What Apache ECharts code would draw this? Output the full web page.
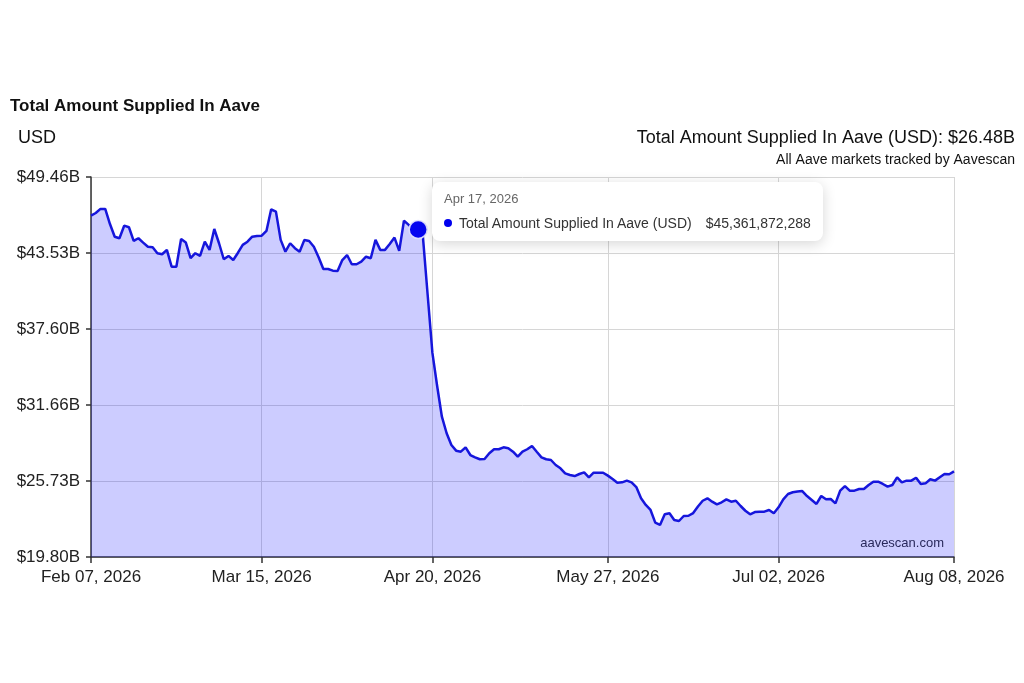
<!DOCTYPE html>
<html>
<head>
<meta charset="utf-8">
<script src="https://cdn.jsdelivr.net/npm/echarts@6/dist/echarts.min.js"></script>
<style>
  html, body { margin: 0; padding: 0; background: #fff; }
  #chart { width: 1024px; height: 683px; }
</style>
</head>
<body>
<div id="chart"></div>
<script>
// daily values, billions of USD, Feb 07 2026 .. Aug 08 2026
var supplied = [
  46.44, 46.65, 46.97, 46.97, 45.79, 44.80, 44.68, 45.66, 45.54, 44.47,
  44.68, 44.34, 44.02, 43.98, 43.51, 43.43, 43.77, 42.46, 42.46, 44.62,
  44.34, 43.12, 43.51, 43.30, 44.41, 43.77, 45.40, 44.29, 43.04, 43.30,
  42.98, 43.55, 44.16, 44.41, 44.80, 44.86, 44.88, 45.25, 46.94, 46.76,
  44.55, 43.63, 44.29, 43.90, 43.63, 44.55, 44.47, 44.02, 43.20, 42.28,
  42.28, 42.15, 42.13, 42.98, 43.37, 42.65, 42.65, 42.85, 43.24, 43.12,
  44.55, 43.77, 43.77, 44.23, 44.73, 43.69, 46.05, 45.72, 45.45, 45.361872288,
  44.78, 40.25, 35.73, 33.15, 30.75, 29.46, 28.54, 28.10, 28.02, 28.36,
  27.76, 27.58, 27.43, 27.45, 27.90, 28.21, 28.21, 28.36, 28.29, 28.02,
  27.63, 28.02, 28.21, 28.47, 28.02, 27.58, 27.43, 27.37, 26.98, 26.72,
  26.33, 26.20, 26.12, 26.28, 26.41, 26.02, 26.38, 26.38, 26.38, 26.15,
  25.89, 25.60, 25.63, 25.76, 25.63, 25.26, 24.38, 23.86, 23.47, 22.48,
  22.30, 23.13, 23.21, 22.69, 22.61, 23.00, 23.02, 23.23, 23.74, 24.19,
  24.38, 24.12, 23.91, 24.07, 24.30, 24.12, 24.19, 23.78, 23.41, 23.13,
  23.31, 23.34, 23.34, 23.47, 23.21, 23.68, 24.30, 24.72, 24.85, 24.91,
  24.95, 24.56, 24.25, 23.94, 24.56, 24.30, 24.33, 23.99, 24.98, 25.34,
  24.98, 24.98, 25.11, 25.11, 25.42, 25.68, 25.68, 25.50, 25.29, 25.42,
  26.02, 25.63, 25.76, 25.76, 25.99, 25.50, 25.55, 25.87, 25.76, 26.02,
  26.28, 26.26, 26.48
];
var tickDates = ['Feb 07, 2026', 'Mar 15, 2026', 'Apr 20, 2026', 'May 27, 2026', 'Jul 02, 2026', 'Aug 08, 2026'];
var yMin = 19.80;
var yMax = 49.46;
var yStep = 5.932;
var hoverIndex = 69;
var seriesName = 'Total Amount Supplied In Aave (USD)';

var months = ['Jan', 'Feb', 'Mar', 'Apr', 'May', 'Jun', 'Jul', 'Aug', 'Sep', 'Oct', 'Nov', 'Dec'];
function pad(n) { return n < 10 ? '0' + n : '' + n; }

// one category per day
var dates = [];
for (var i = 0; i < supplied.length; i++) {
    var d = new Date(Date.UTC(2026, 1, 7 + i));
    dates.push(months[d.getUTCMonth()] + ' ' + pad(d.getUTCDate()) + ', ' + d.getUTCFullYear());
}

var hoverData = supplied.map(function(v, i) { return i === hoverIndex ? v : '-'; });

function isTick(index, value) {
    return tickDates.indexOf(dates[index]) >= 0;
}

var font = "'Liberation Sans', Arial, Helvetica, sans-serif";
var chart = echarts.init(document.getElementById('chart'));

var option = {
    animation: false,
    textStyle: { fontFamily: font },
    title: [
        { text: 'Total Amount Supplied In Aave', left: 10, top: 98, padding: 0,
          textStyle: { fontSize: 17, fontWeight: 'bold', color: '#111', fontFamily: font } },
        { text: 'USD', left: 18, top: 129, padding: 0,
          textStyle: { fontSize: 18, fontWeight: 'normal', color: '#111', fontFamily: font } },
        { text: 'Total Amount Supplied In Aave (USD): $26.48B', right: 9, top: 129, padding: 0,
          textStyle: { fontSize: 18, fontWeight: 'normal', color: '#111', fontFamily: font } },
        { text: 'All Aave markets tracked by Aavescan', right: 9, top: 153, padding: 0,
          textStyle: { fontSize: 14, fontWeight: 'normal', color: '#111', fontFamily: font } }
    ],
    graphic: [{
        type: 'text', right: 80, top: 537,
        style: { text: 'aavescan.com', fontSize: 13, fill: '#333', font: '13px ' + font }
    }],
    grid: { left: 91, right: 70, top: 177, bottom: 126 },
    tooltip: {
        trigger: 'item',
        alwaysShowContent: true,
        position: [432, 182],
        backgroundColor: '#fff',
        borderWidth: 0,
        padding: [9, 12, 8, 12],
        extraCssText: 'border-radius:8px;box-shadow:0 3px 14px rgba(0,0,0,0.16);',
        formatter: function(p) {
            var v = supplied[p.dataIndex];
            var full = '$' + Math.round(v * 1e9).toLocaleString('en-US');
            return '<div style="font-family:' + font.replace(/'/g, '') + ';">' +
                '<div style="color:#666;font-size:13px;line-height:16px;">' + dates[p.dataIndex] + '</div>' +
                '<div style="margin-top:6px;color:#333;font-size:14px;line-height:20px;display:flex;align-items:center;">' +
                '<span style="display:inline-block;width:8px;height:8px;border-radius:50%;background:#0000ee;margin-right:7px;"></span>' +
                '<span>' + seriesName + '</span>' +
                '<span style="margin-left:14px;">' + full + '</span></div></div>';
        }
    },
    xAxis: {
        type: 'category',
        boundaryGap: false,
        data: dates,
        axisLine: { lineStyle: { color: '#333', width: 1.5 } },
        axisTick: { interval: isTick, length: 6, lineStyle: { color: '#333', width: 1.5 } },
        axisLabel: { interval: isTick, margin: 12, fontSize: 17, color: '#222', fontFamily: font },
        splitLine: { show: true, interval: isTick, lineStyle: { color: '#d6d6d6', width: 1 } }
    },
    yAxis: {
        type: 'value',
        min: yMin,
        max: yMax,
        interval: yStep,
        axisLine: { show: true, lineStyle: { color: '#333', width: 1.5 } },
        axisTick: { show: true, length: 5, lineStyle: { color: '#333', width: 1.5 } },
        axisLabel: {
            margin: 11, fontSize: 17, color: '#222', fontFamily: font,
            formatter: function(v) { return '$' + v.toFixed(2) + 'B'; }
        },
        splitLine: { lineStyle: { color: '#d6d6d6', width: 1 } }
    },
    series: [{
        name: seriesName,
        type: 'line',
        data: supplied,
        showSymbol: false,
        silent: true,
        lineStyle: { color: '#1616dc', width: 2.5 },
        itemStyle: { color: '#1616dc' },
        areaStyle: { color: 'rgba(0,0,255,0.2)', opacity: 1, origin: 'start' }
    }, {
        name: seriesName,
        type: 'scatter',
        data: hoverData,
        symbolSize: 18,
        z: 5,
        itemStyle: { color: '#0505f0', opacity: 1, borderColor: 'rgba(225,225,255,0.95)', borderWidth: 1.5 },
        emphasis: { scale: false, itemStyle: { color: '#0505f0', opacity: 1 } }
    }]
};

chart.setOption(option);
chart.dispatchAction({ type: 'showTip', seriesIndex: 1, dataIndex: hoverIndex });
</script>
</body>
</html>
